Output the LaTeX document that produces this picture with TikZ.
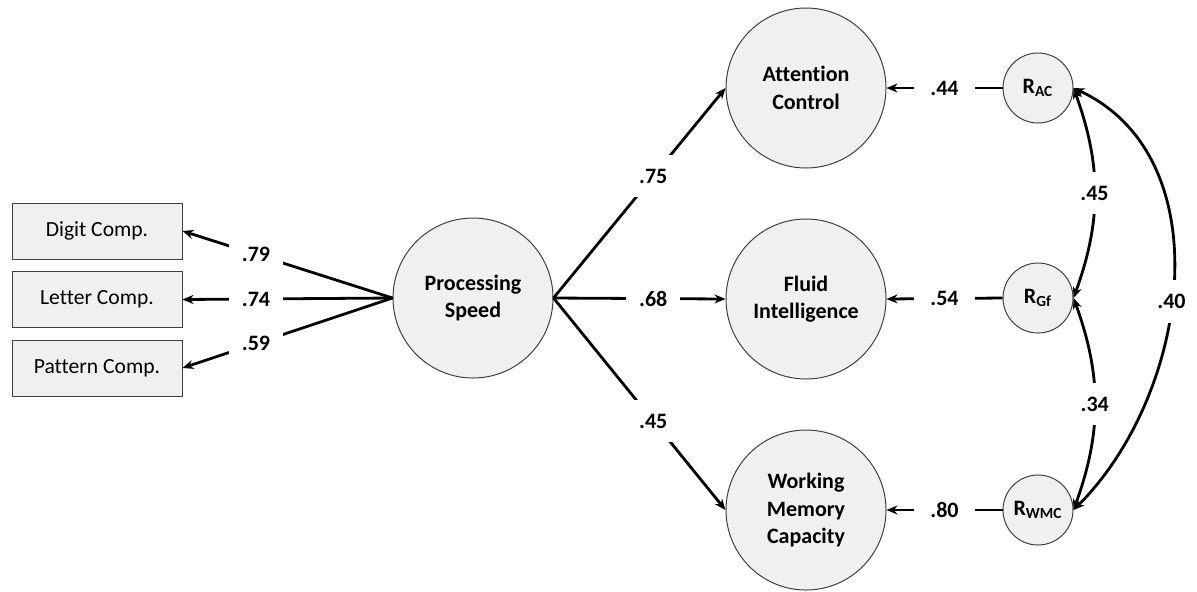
\documentclass[tikz,border=0pt]{standalone}
\usepackage{fontspec}
\setmainfont{Carlito}[Ligatures=NoCommon]
\usetikzlibrary{arrows.meta}

\begin{document}
\begin{tikzpicture}[x=0.5pt,y=0.5pt,
  latent/.style={circle, draw=black!75, fill=black!6, line width=0.5pt, minimum size=80pt, inner sep=0pt, align=center, font=\bfseries\fontsize{11}{13.8}\selectfont},
  resid/.style={circle, draw=black!75, fill=black!6, line width=0.5pt, minimum size=35pt, inner sep=0pt, font=\bfseries\fontsize{11}{12}\selectfont},
  manifest/.style={rectangle, draw=black!75, fill=black!6, line width=0.5pt, minimum width=85pt, minimum height=28pt, inner sep=0pt, font=\fontsize{10.8}{12}\selectfont},
  coef/.style={fill=white, inner xsep=6.5pt, inner ysep=7pt, font=\bfseries\fontsize{11}{12}\selectfont},
  path/.style={line width=1.4pt, -{Stealth[length=5.5pt,width=4.5pt]}},
  cov/.style={line width=1.4pt, {Stealth[length=5.5pt,width=4.5pt]}-{Stealth[length=5.5pt,width=4.5pt]}}]
\useasboundingbox (0,0) rectangle (1197,-591);

% indicators
\node [manifest] (digit) at (97,-231) {Digit Comp.};
\node [manifest] (letter) at (97,-299.5) {Letter Comp.};
\node [manifest] (pattern) at (97,-368) {Pattern Comp.};

% latent factors
\node [latent] (ps) at (473,-298) {Processing\\Speed};
\node [latent] (ac) at (806,-88) {Attention\\Control};
\node [latent] (gf) at (806,-299) {Fluid\\Intelligence};
\node [latent] (wmc) at (806,-510) {Working\\Memory\\Capacity};

% residuals
\node [resid] (rac) at (1038,-88) {R\textsubscript{AC}};
\node [resid] (rgf) at (1038,-298) {R\textsubscript{Gf}};
\node [resid] (rwmc) at (1038,-510) {R\textsubscript{WMC}};

% loadings
\draw [path] (ps.west) -- node [coef, pos=0.65] {.79} (digit.east);
\draw [path] (ps.west) -- node [coef, pos=0.65] {.74} (letter.east);
\draw [path] (ps.west) -- node [coef, pos=0.65] {.59} (pattern.east);

% regressions
\draw [path] (ps.east) -- node [coef, pos=0.58] {.75} (ac.west);
\draw [path] (ps.east) -- node [coef, pos=0.58] {.68} (gf.west);
\draw [path] (ps.east) -- node [coef, pos=0.58] {.45} (wmc.west);

\draw [path] (rac.west) -- node [coef, inner xsep=8pt] {.44} (ac.east);
\draw [path] (rgf.west) -- node [coef, inner xsep=8pt] {.54} (gf.east);
\draw [path] (rwmc.west) -- node [coef, inner xsep=8pt] {.80} (wmc.east);

% residual covariances
\draw [cov] (rac.east) to [out=-70, in=70] node [coef, inner xsep=2pt] {.45} (rgf.east);
\draw [cov] (rgf.east) to [out=-70, in=70] node [coef, inner xsep=2pt] {.34} (rwmc.east);
\draw [cov] (rac.east) to [out=-25, in=45] node [coef, inner xsep=2pt, pos=0.54] {.40} (rwmc.east);
\end{tikzpicture}
\end{document}
